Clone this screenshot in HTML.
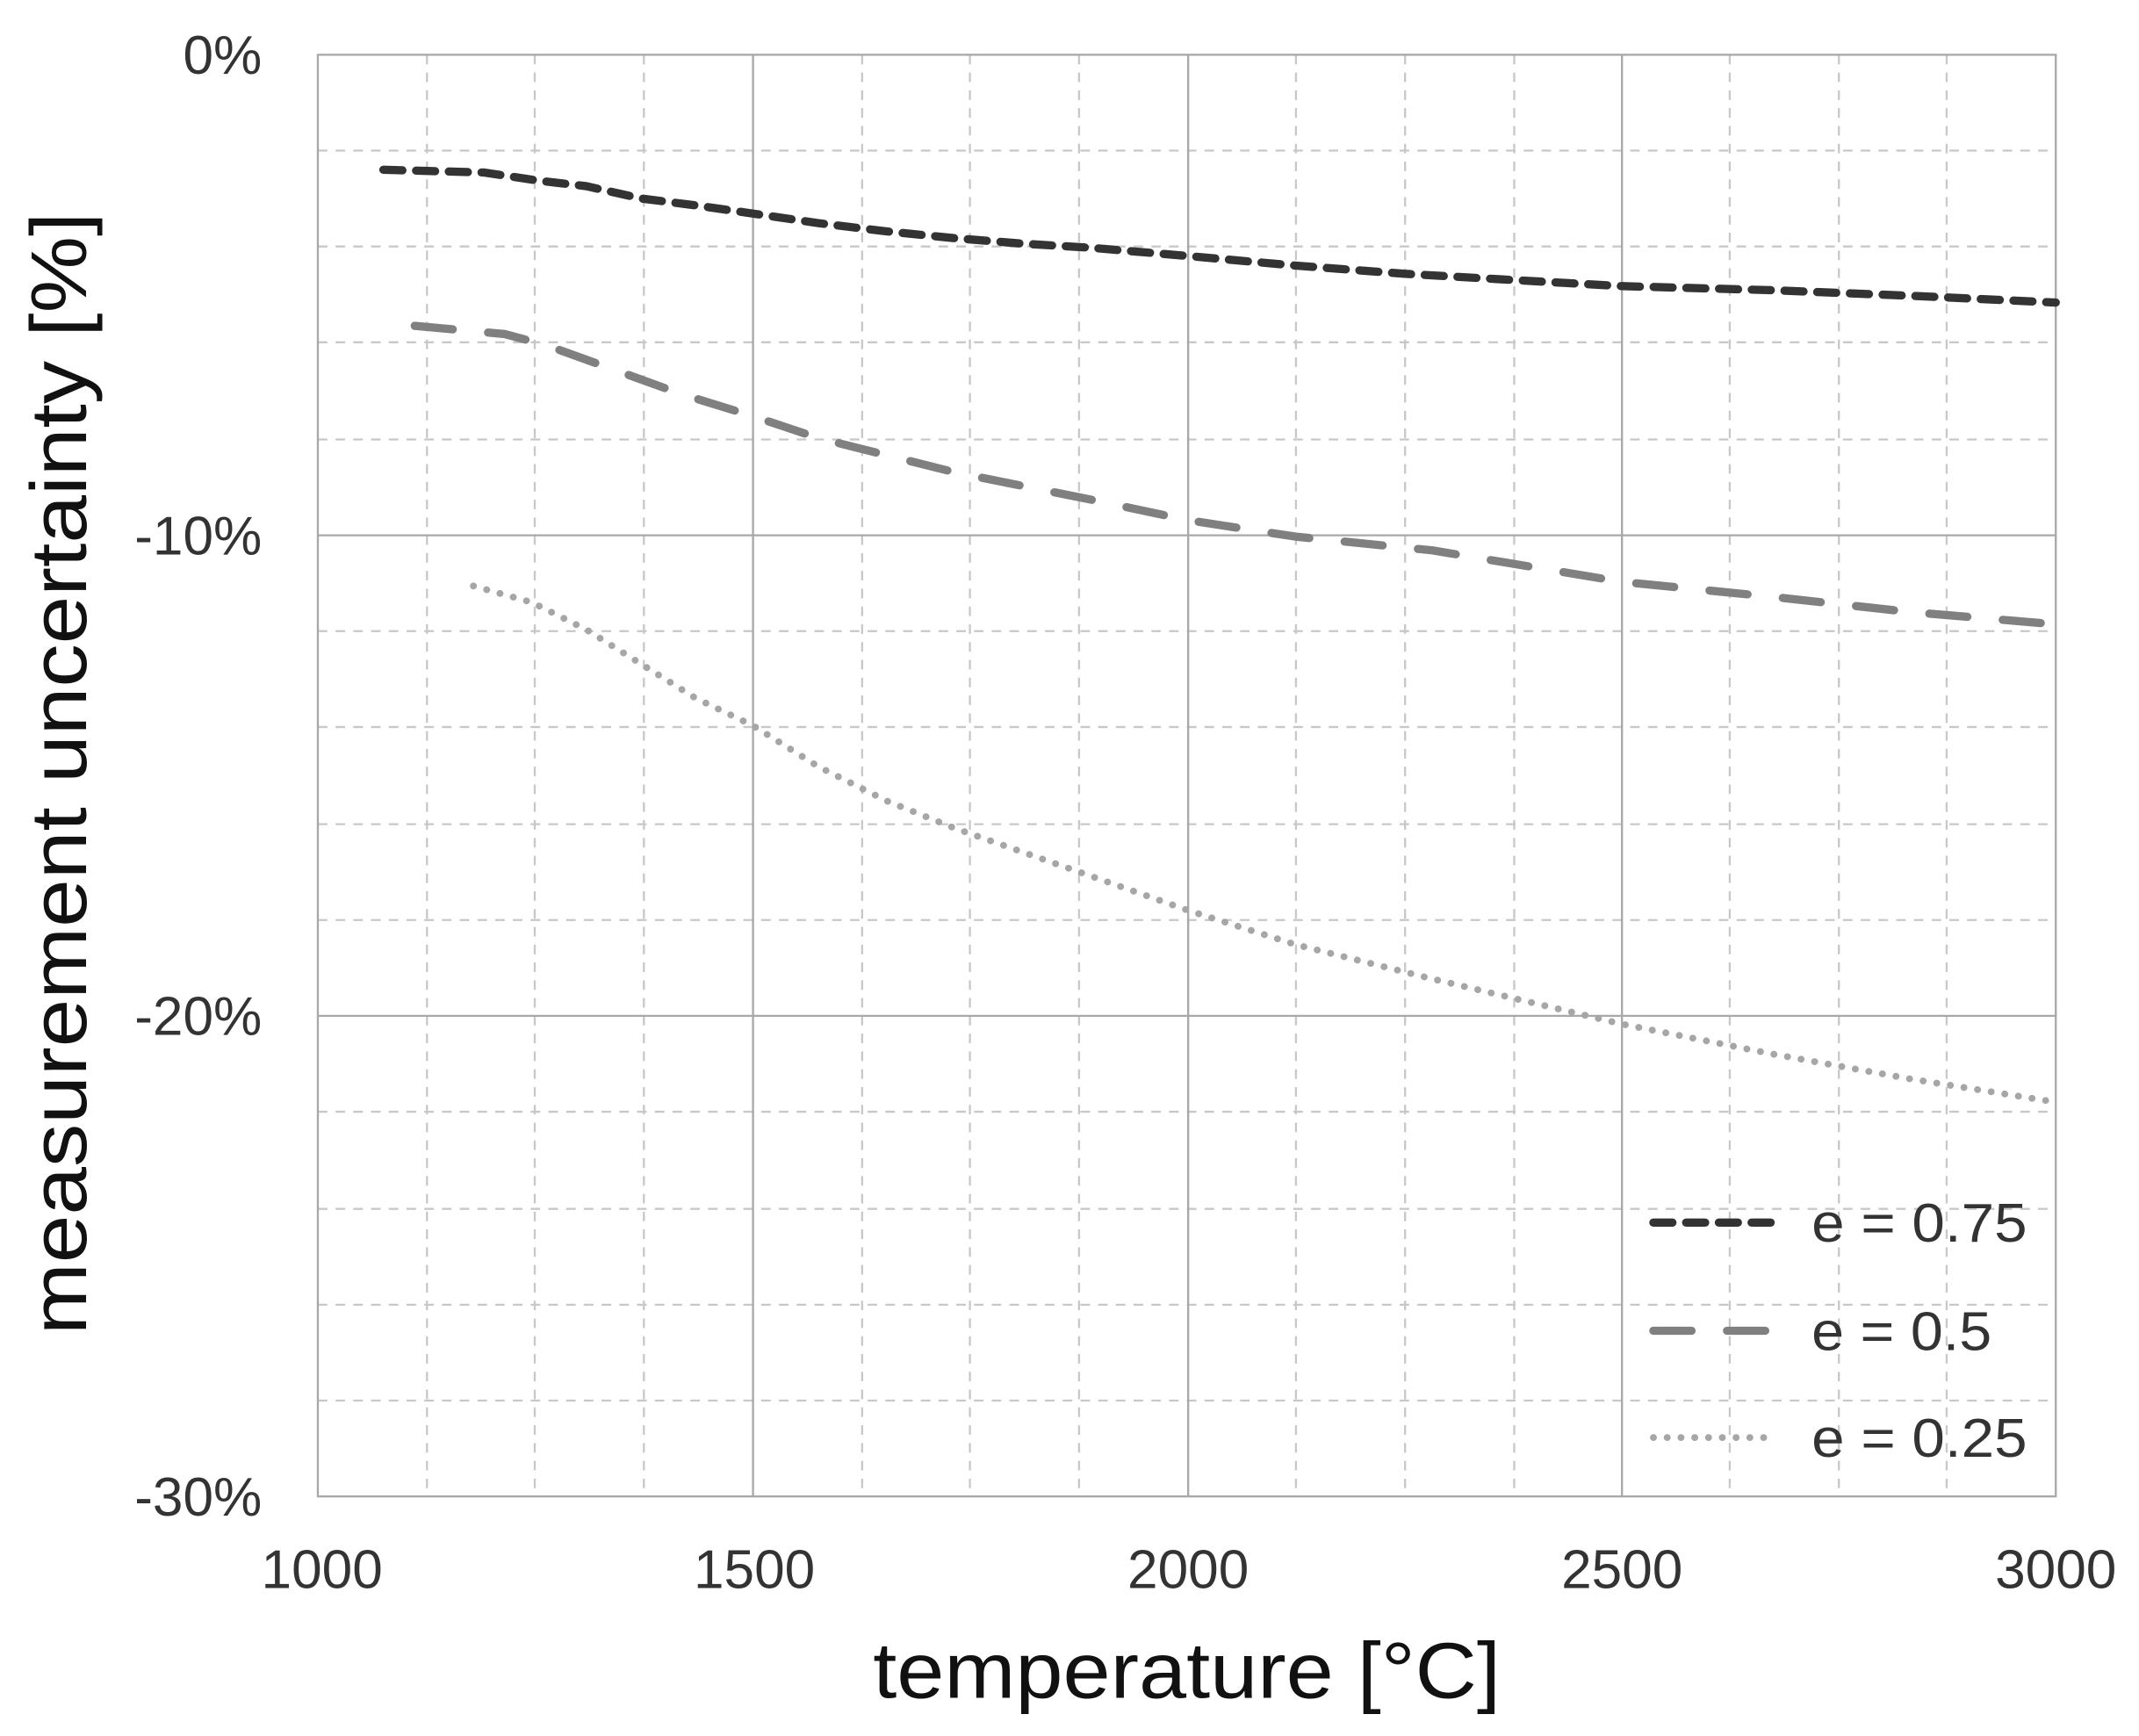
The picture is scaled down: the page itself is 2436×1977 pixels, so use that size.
<!DOCTYPE html>
<html><head><style>html,body{margin:0;padding:0;background:#fff}svg{display:block}</style></head>
<body>
<svg width="2436" height="1977" viewBox="0 0 1568 1268" preserveAspectRatio="none" xmlns="http://www.w3.org/2000/svg" font-family="'Liberation Sans', sans-serif">
<rect width="1568" height="1268" fill="#fff"/>
<g stroke="#c8c8c8" stroke-width="1.5" stroke-dasharray="7,6">
<line x1="313" y1="40" x2="313" y2="1093"/><line x1="392" y1="40" x2="392" y2="1093"/><line x1="472" y1="40" x2="472" y2="1093"/>
<line x1="632" y1="40" x2="632" y2="1093"/><line x1="711" y1="40" x2="711" y2="1093"/><line x1="791" y1="40" x2="791" y2="1093"/>
<line x1="950" y1="40" x2="950" y2="1093"/><line x1="1030" y1="40" x2="1030" y2="1093"/><line x1="1110" y1="40" x2="1110" y2="1093"/>
<line x1="1268" y1="40" x2="1268" y2="1093"/><line x1="1348" y1="40" x2="1348" y2="1093"/><line x1="1427" y1="40" x2="1427" y2="1093"/>
<line x1="233" y1="110" x2="1507" y2="110"/><line x1="233" y1="180" x2="1507" y2="180"/><line x1="233" y1="250" x2="1507" y2="250"/><line x1="233" y1="321" x2="1507" y2="321"/>
<line x1="233" y1="461" x2="1507" y2="461"/><line x1="233" y1="531" x2="1507" y2="531"/><line x1="233" y1="602" x2="1507" y2="602"/><line x1="233" y1="672" x2="1507" y2="672"/>
<line x1="233" y1="812" x2="1507" y2="812"/><line x1="233" y1="883" x2="1507" y2="883"/><line x1="233" y1="953" x2="1507" y2="953"/><line x1="233" y1="1023" x2="1507" y2="1023"/>
</g>
<g stroke="#a8a8a8" stroke-width="1.5" fill="none">
<line x1="552" y1="40" x2="552" y2="1093"/><line x1="871" y1="40" x2="871" y2="1093"/><line x1="1189" y1="40" x2="1189" y2="1093"/>
<line x1="233" y1="391" x2="1507" y2="391"/><line x1="233" y1="742" x2="1507" y2="742"/>
<rect x="233" y="40" width="1274" height="1053"/>
</g>
<g fill="none" stroke-linecap="round" stroke-linejoin="round">
<polyline stroke="#333" stroke-width="6" stroke-dasharray="14,10" points="281,124 355,126 395,132 430,136 470,145 510,150 552,156 600,163 650,169 700,174 750,178 800,181 871,187 950,194 1030,200 1100,204 1189,209 1300,212 1400,216 1507,221"/>
<polyline stroke="#808080" stroke-width="6" stroke-dasharray="28,26" points="304,238 370,244 400,252 450,270 500,288 552,304 600,320 700,345 800,365 871,380 950,392 1050,402 1189,425 1300,436 1400,447 1507,456"/>
<polyline stroke="#a6a6a6" stroke-width="5" stroke-dasharray="0.1,10" points="347,428 390,440 430,460 470,485 510,510 552,530 600,560 650,585 700,605 800,640 871,665 950,690 1050,715 1189,748 1300,770 1400,788 1507,805"/>
<line stroke="#333" stroke-width="6" stroke-dasharray="14,10" x1="1212" y1="893" x2="1305" y2="893"/>
<line stroke="#808080" stroke-width="6" stroke-dasharray="28,26" x1="1212" y1="972" x2="1300" y2="972"/>
<line stroke="#a6a6a6" stroke-width="5" stroke-dasharray="0.1,10" x1="1212" y1="1050" x2="1300" y2="1050"/>
</g>
<g fill="#333" font-size="40">
<text x="1328" y="907" textLength="158" lengthAdjust="spacingAndGlyphs">e = 0.75</text>
<text x="1328" y="986" textLength="132" lengthAdjust="spacingAndGlyphs">e = 0.5</text>
<text x="1328" y="1064" textLength="158" lengthAdjust="spacingAndGlyphs">e = 0.25</text>
</g>
<g fill="#333" font-size="40" text-anchor="end">
<text x="192" y="54">0%</text><text x="192" y="405">-10%</text><text x="192" y="756">-20%</text><text x="192" y="1107">-30%</text>
</g>
<g fill="#333" font-size="40" text-anchor="middle">
<text x="236" y="1160">1000</text><text x="553" y="1160">1500</text><text x="871" y="1160">2000</text><text x="1189" y="1160">2500</text><text x="1507" y="1160">3000</text>
</g>
<text x="640" y="1240" font-size="58" fill="#111" textLength="460" lengthAdjust="spacingAndGlyphs">temperature [°C]</text>
<text transform="translate(63,975) rotate(-90)" font-size="58" fill="#111" textLength="820" lengthAdjust="spacingAndGlyphs">measurement uncertainty [%]</text>
</svg>
</body></html>
